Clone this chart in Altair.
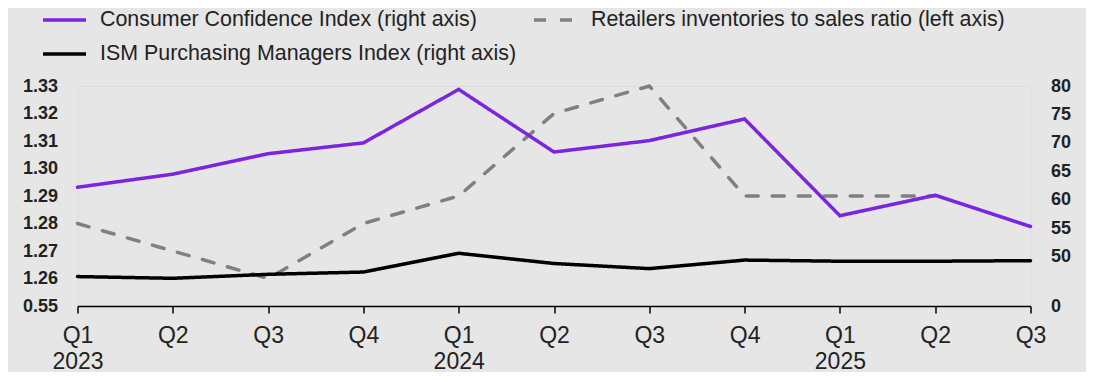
import altair as alt
import pandas as pd

# ---- data ----
quarters = ["Q1", "Q2", "Q3", "Q4", "Q1", "Q2", "Q3", "Q4", "Q1", "Q2", "Q3"]
years = ["2023", "", "", "", "2024", "", "", "", "2025", "", ""]
cci = [62.2, 64.5, 68.1, 70.0, 79.4, 68.4, 70.4, 74.2, 57.2, 60.8, 55.3]
ism = [46.5, 46.2, 46.9, 47.3, 50.6, 48.8, 47.9, 49.4, 49.2, 49.2, 49.3]
retail = [1.28, 1.27, 1.26, 1.28, 1.29, 1.32, 1.33, 1.29, 1.29, 1.29, None]

series_keys = ["a", "b", "c"]
series_names = [
    "Consumer Confidence Index (right axis)",
    "Retailers inventories to sales ratio (left axis)",
    "ISM Purchasing Managers Index (right axis)",
]
series_colors = ["#7B25E1", "#808080", "#000000"]
series_dash = [[1, 0], [12, 14], [1, 0]]

left_ticks = [1.25, 1.26, 1.27, 1.28, 1.29, 1.30, 1.31, 1.32, 1.33]
left_domain = [1.25, 1.33]
left_break_label = "0.55"
right_ticks = [41.33, 50, 55, 60, 65, 70, 75, 80]
right_domain = [41.33, 80]
right_break_label = "0"

# axis-break decorations (x in quarter index units, y in left-axis units)
break_group = ["L", "L", "R", "R"]
break_x = [-0.163, 0.149, 9.848, 10.17]
break_top = [1.25556, 1.2580, 1.25556, 1.2580]
break_bot = [1.25218, 1.25484, 1.25218, 1.25484]

# ---- tables ----
rows = []
for i in range(len(quarters)):
    rows.append({"i": i, "key": series_keys[0], "value": cci[i], "side": "right"})
    if retail[i] is not None:
        rows.append({"i": i, "key": series_keys[1], "value": retail[i], "side": "left"})
    rows.append({"i": i, "key": series_keys[2], "value": ism[i], "side": "right"})
df = pd.DataFrame(rows)
df_left = df[df.side == "left"]
df_right = df[df.side == "right"]
df_break = pd.DataFrame({"g": break_group, "x": break_x, "top": break_top, "bot": break_bot})

label_arr = "[" + ",".join(
    "['%s','%s']" % (q, y) if y else "['%s']" % q for q, y in zip(quarters, years)
) + "]"
legend_label_expr = "datum.value == '%s' ? '%s' : datum.value == '%s' ? '%s' : '%s'" % (
    series_keys[0], series_names[0], series_keys[1], series_names[1], series_names[2]
)

FONT = "Liberation Sans"

x_enc = alt.X(
    "i:Q",
    scale=alt.Scale(domain=[0, len(quarters) - 1], nice=False, zero=False),
    axis=alt.Axis(
        values=list(range(len(quarters))),
        labelExpr=label_arr + "[datum.value]",
        title=None,
        grid=False,
        domainColor="#000000",
        domainWidth=1.5,
        tickColor="#000000",
        tickWidth=1.5,
        tickSize=7,
        labelFontSize=23,
        labelColor="#222222",
        labelPadding=11,
        labelLineHeight=26,
        labelFlush=False,
        labelOverlap=False,
        labelBound=False,
    ),
)

legend = alt.Legend(
    title=None,
    orient="none",
    direction="horizontal",
    legendX=-36.5,
    legendY=-89.5,
    columns=2,
    columnPadding=10,
    rowPadding=-9,
    symbolType="stroke",
    symbolSize=1849,
    symbolStrokeWidth=3.5,
    labelFontSize=21.4,
    labelColor="#222222",
    labelOffset=12,
    labelLimit=0,
    labelExpr=legend_label_expr,
)

color_enc = alt.Color("key:N", scale=alt.Scale(domain=series_keys, range=series_colors), legend=legend)
dash_enc = alt.StrokeDash("key:N", scale=alt.Scale(domain=series_keys, range=series_dash), legend=legend)

breaks = alt.Chart(df_break).mark_area(color="#f4f4f4").encode(
    x=x_enc,
    y=alt.Y("top:Q", scale=alt.Scale(domain=left_domain, nice=False, zero=False), axis=None),
    y2="bot:Q",
    detail="g:N",
)

left_line = alt.Chart(df_left).mark_line(strokeWidth=3.5, strokeCap="round").encode(
    x=x_enc,
    y=alt.Y(
        "value:Q",
        scale=alt.Scale(domain=left_domain, nice=False, zero=False),
        axis=alt.Axis(
            orient="left",
            values=left_ticks,
            labelExpr="datum.value < 1.255 ? '%s' : format(datum.value, '.2f')" % left_break_label,
            title=None,
            domain=False,
            ticks=False,
            grid=False,
            labelFontSize=18,
            labelFontWeight="bold",
            labelColor="#222222",
            labelPadding=20,
        ),
    ),
    color=color_enc,
    strokeDash=dash_enc,
)

right_line = alt.Chart(df_right).mark_line(strokeWidth=3.5, strokeCap="round").encode(
    x=x_enc,
    y=alt.Y(
        "value:Q",
        scale=alt.Scale(domain=right_domain, nice=False, zero=False),
        axis=alt.Axis(
            orient="right",
            values=right_ticks,
            labelExpr="datum.value < 45 ? '%s' : format(datum.value, 'd')" % right_break_label,
            title=None,
            domain=False,
            ticks=False,
            grid=False,
            labelFontSize=18,
            labelFontWeight="bold",
            labelColor="#222222",
            labelPadding=20,
        ),
    ),
    color=color_enc,
    strokeDash=dash_enc,
    detail="key:N",
)

chart = (
    alt.layer(breaks, left_line, right_line)
    .resolve_scale(y="independent")
    .properties(
        width=953,
        height=220,
        autosize=alt.AutoSizeParams(type="none"),
        padding={"left": 69.5, "top": 78, "right": 55.5, "bottom": 66},
        background="#e6e6e6",
    )
    .configure_view(stroke=None)
    .configure(font=FONT)
)

chart.save("out.html", embed_options={"renderer": "svg", "actions": False})
